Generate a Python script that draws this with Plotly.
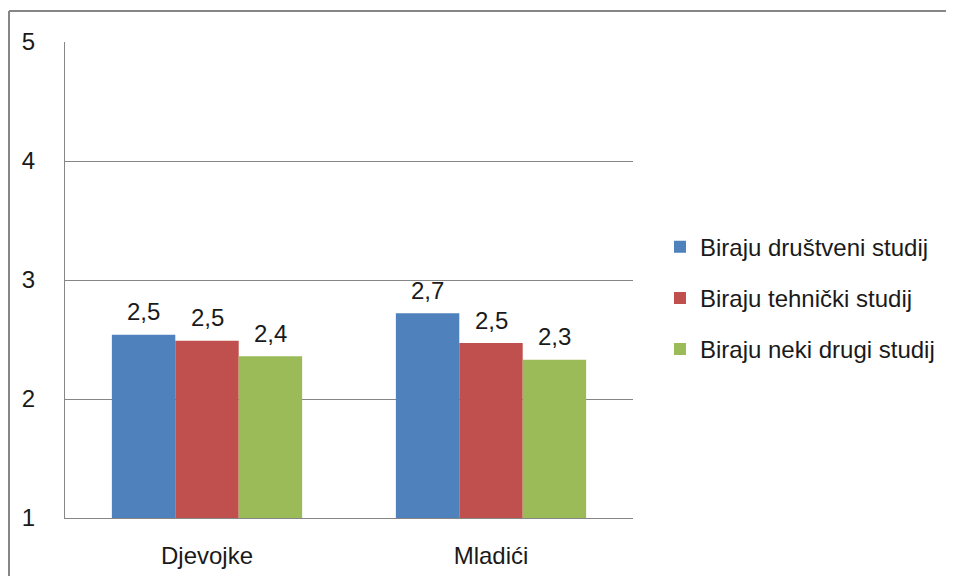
import plotly.graph_objects as go

# Podaci očitani s grafa
kategorije = ["Djevojke", "Mladići"]
serije = ["Biraju društveni studij", "Biraju tehnički studij", "Biraju neki drugi studij"]
vrijednosti = [
    [2.54, 2.72],
    [2.49, 2.47],
    [2.36, 2.33],
]
boje = ["#4F81BD", "#C0504D", "#9BBB59"]

FONT = "Liberation Sans"
FS = 24
BARGAP = 0.33
PLOT_W = 568

fig = go.Figure()
for i, (ime, vals) in enumerate(zip(serije, vrijednosti)):
    fig.add_trace(go.Bar(
        x=kategorije, y=vals, name=ime, marker=dict(color=boje[i], line=dict(width=0)),
        legendgroup=ime, hoverinfo="skip",
    ))

# oznake vrijednosti iznad stupaca (decimalni zarez)
bar_px = PLOT_W / len(kategorije) * (1 - BARGAP) / len(serije)
for i, vals in enumerate(vrijednosti):
    for kat, v in zip(kategorije, vals):
        fig.add_annotation(
            x=kat, y=v, text=f"{v:.1f}".replace(".", ","), showarrow=False,
            xshift=(i - 1) * bar_px, yshift=23, yanchor="middle",
            font=dict(family=FONT, size=FS, color="#1a1a1a"),
        )

# okvir grafikona (vidljivi samo lijevi i gornji rub)
okvir = dict(color="#868686", width=2)
fig.add_shape(type="line", xref="paper", yref="paper",
              x0=-0.0986, y0=1.065, x1=2, y1=1.065, line=okvir, layer="above")
fig.add_shape(type="line", xref="paper", yref="paper",
              x0=-0.0986, y0=1.065, x1=-0.0986, y1=-0.5, line=okvir, layer="above")

fig.update_layout(
    width=954, height=576,
    margin=dict(l=57, r=329, t=34, b=66),
    paper_bgcolor="white", plot_bgcolor="white",
    barmode="group", bargap=BARGAP, bargroupgap=0,
    font=dict(family=FONT, size=FS, color="#1a1a1a"),
    showlegend=True,
    legend=dict(x=1.0475, y=0.462, xanchor="left", yanchor="middle",
                tracegroupgap=17, font=dict(size=FS), itemwidth=30),
    xaxis=dict(range=[-0.5, 1.5], showline=True, linecolor="#868686", linewidth=1,
               ticks="", showgrid=False, ticklabelstandoff=16),
    yaxis=dict(range=[1, 5], dtick=1, showgrid=True, gridcolor="#868686", gridwidth=1,
               showline=True, linecolor="#868686", linewidth=1, zeroline=False,
               ticks="", ticklabelstandoff=24),
)

fig.write_html("out.html")
